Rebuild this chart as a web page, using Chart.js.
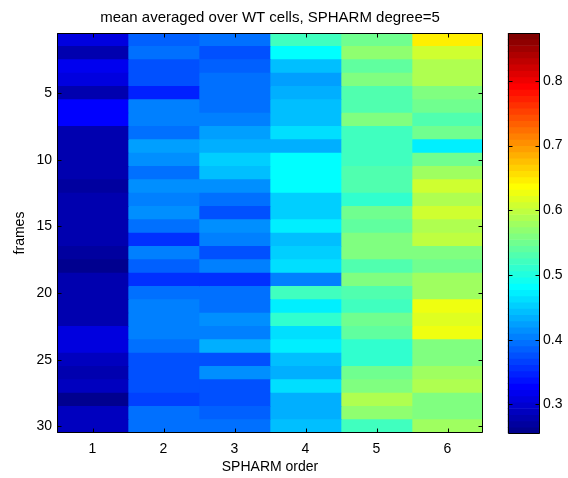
<!DOCTYPE html>
<html lang="en">
<head>
<meta charset="UTF-8">
<title>SPHARM mean, WT cells</title>
<script src="https://cdn.jsdelivr.net/npm/chart.js@4.4.1/dist/chart.umd.min.js"></script>
<style>
  body { margin: 0; background: #fff; }
  #wrap { position: relative; width: 568px; height: 478px; }
  #heatBox { position: absolute; left: 0; top: 0; width: 540px; height: 478px; }
  #barBox { position: absolute; left: 500px; top: 0; width: 68px; height: 478px; }
</style>
</head>
<body>
<div id="wrap">
  <div id="heatBox"><canvas id="heat"></canvas></div>
  <div id="barBox"><canvas id="cbar"></canvas></div>
</div>
<script>
// SPHARM orders along x, frames 1..30 down y
const orders = ['1', '2', '3', '4', '5', '6'];
const frameTicks = [5, 10, 15, 20, 25, 30];
const colorTicks = [0.3, 0.4, 0.5, 0.6, 0.7, 0.8];
const cmin = 0.255, cmax = 0.874;

// mean value per frame (rows 1..30) for each order
const order1 = [0.310, 0.281, 0.322, 0.310, 0.284, 0.332, 0.332, 0.281, 0.281, 0.281,
                0.281, 0.274, 0.281, 0.284, 0.284, 0.276, 0.265, 0.260, 0.276, 0.281,
                0.281, 0.281, 0.310, 0.310, 0.291, 0.276, 0.287, 0.260, 0.290, 0.290];
const order2 = [0.390, 0.400, 0.378, 0.380, 0.346, 0.403, 0.403, 0.398, 0.426, 0.414,
                0.400, 0.416, 0.409, 0.416, 0.400, 0.352, 0.403, 0.390, 0.352, 0.398,
                0.409, 0.409, 0.409, 0.398, 0.376, 0.376, 0.376, 0.363, 0.398, 0.398];
const order3 = [0.400, 0.378, 0.390, 0.400, 0.400, 0.400, 0.403, 0.427, 0.434, 0.456,
                0.448, 0.414, 0.400, 0.372, 0.418, 0.409, 0.380, 0.409, 0.361, 0.398,
                0.398, 0.416, 0.403, 0.434, 0.372, 0.418, 0.380, 0.380, 0.390, 0.400];
const order4 = [0.517, 0.486, 0.448, 0.427, 0.434, 0.445, 0.445, 0.466, 0.434, 0.486,
                0.486, 0.480, 0.456, 0.456, 0.476, 0.445, 0.456, 0.466, 0.403, 0.517,
                0.476, 0.508, 0.466, 0.476, 0.445, 0.434, 0.466, 0.434, 0.434, 0.445];
const order5 = [0.548, 0.573, 0.537, 0.564, 0.527, 0.527, 0.558, 0.517, 0.517, 0.517,
                0.527, 0.527, 0.508, 0.548, 0.537, 0.558, 0.564, 0.527, 0.558, 0.527,
                0.517, 0.548, 0.537, 0.508, 0.508, 0.548, 0.558, 0.590, 0.568, 0.517];
const order6 = [0.645, 0.610, 0.590, 0.590, 0.558, 0.548, 0.527, 0.548, 0.476, 0.548,
                0.579, 0.610, 0.590, 0.610, 0.590, 0.600, 0.564, 0.548, 0.579, 0.579,
                0.630, 0.617, 0.630, 0.558, 0.558, 0.579, 0.590, 0.558, 0.558, 0.579];

const columns = [order1, order2, order3, order4, order5, order6];

// matlab style jet(n)
function jet(n) {
  const m = Math.ceil(n / 4);
  const u = [];
  for (let i = 1; i <= m; i++) u.push(i / m);
  for (let i = 1; i < m; i++) u.push(1);
  for (let i = m; i >= 1; i--) u.push(i / m);
  const g0 = Math.ceil(m / 2) - (n % 4 === 1 ? 1 : 0);
  const map = Array.from({ length: n }, () => [0, 0, 0]);
  u.forEach((v, k) => {
    const g = g0 + k + 1;
    const r = g + m, b = g - m;
    if (r <= n) map[r - 1][0] = v;
    if (g <= n) map[g - 1][1] = v;
    if (b >= 1 && b <= n) map[b - 1][2] = v;
  });
  return map.map(c => 'rgb(' + c.map(x => Math.round(x * 255)).join(',') + ')');
}

const cmap = jet(64);
function colorFor(v) {
  let i = Math.floor((v - cmin) / (cmax - cmin) * cmap.length);
  i = Math.max(0, Math.min(cmap.length - 1, i));
  return cmap[i];
}

const FONT = 'Arial, "Liberation Sans", Helvetica, sans-serif';
Chart.defaults.font.family = FONT;
Chart.defaults.font.size = 14;
Chart.defaults.color = '#000';

// box around the axes plus short inward tick marks
const axesBox = {
  id: 'axesBox',
  afterDatasetsDraw(chart, args, opts) {
    const { ctx, chartArea: a, scales } = chart;
    const L = Math.round(a.left) + 0.5, R = Math.round(a.right) - 0.5;
    const T = Math.round(a.top) + 0.5, B = Math.round(a.bottom) - 0.5;
    const len = 4;
    ctx.save();
    ctx.strokeStyle = '#000';
    ctx.lineWidth = 1;
    ctx.beginPath();
    ctx.rect(L, T, R - L, B - T);
    if (opts.xTicks) {
      scales.x.ticks.forEach((t, i) => {
        const x = Math.round(scales.x.getPixelForTick(i)) + 0.5;
        ctx.moveTo(x, B); ctx.lineTo(x, B - len);
        ctx.moveTo(x, T); ctx.lineTo(x, T + len);
      });
    }
    scales.y.ticks.forEach(t => {
      const y = Math.round(scales.y.getPixelForValue(t.value)) + 0.5;
      ctx.moveTo(L, y); ctx.lineTo(L + len, y);
      ctx.moveTo(R, y); ctx.lineTo(R - len, y);
    });
    ctx.stroke();
    ctx.restore();
  }
};

// heat map: one floating bar per frame, one dataset per order
const heatSets = columns.map((col, c) => ({
  data: col.map((v, r) => ({ x: orders[c], y: [r + 0.5, r + 1.5] })),
  backgroundColor: col.map(colorFor),
  borderWidth: 0,
  grouped: false,
  barPercentage: 1,
  categoryPercentage: 1
}));

new Chart(document.getElementById('heat'), {
  type: 'bar',
  data: { labels: orders, datasets: heatSets },
  options: {
    responsive: true,
    maintainAspectRatio: false,
    animation: false,
    events: [],
    layout: { padding: 0 },
    plugins: {
      legend: { display: false },
      tooltip: { enabled: false },
      title: {
        display: true,
        text: 'mean averaged over WT cells, SPHARM degree=5',
        font: { size: 15, weight: 'normal' },
        color: '#000',
        padding: { top: 9, bottom: 6 }
      },
      axesBox: { xTicks: true }
    },
    scales: {
      x: {
        type: 'category',
        grid: { display: false, drawTicks: false, offset: false },
        border: { display: false },
        ticks: { padding: 8 },
        title: { display: true, text: 'SPHARM order', padding: { top: 0, bottom: 2 } },
        afterFit: s => { s.height = 45; }
      },
      y: {
        type: 'linear',
        reverse: true,
        min: 0.5,
        max: 30.5,
        grid: { display: false, drawTicks: false },
        border: { display: false },
        ticks: { padding: 5 },
        afterBuildTicks: s => { s.ticks = frameTicks.map(v => ({ value: v })); },
        title: { display: true, text: 'frames', padding: { top: 11.6, bottom: 0 } },
        afterFit: s => { s.width = 57; }
      },
      // empty right gutter, same width as the left one, so the title sits over the plot
      gutter: {
        type: 'linear',
        position: 'right',
        grid: { display: false, drawTicks: false },
        border: { display: false },
        ticks: { display: false },
        afterFit: s => { s.width = 57; }
      }
    }
  },
  plugins: [axesBox]
});

// colour bar: the 64 jet levels stacked between the colour limits
const step = (cmax - cmin) / cmap.length;
new Chart(document.getElementById('cbar'), {
  type: 'bar',
  data: {
    labels: ['c'],
    datasets: [{
      data: cmap.map((c, i) => ({ x: 'c', y: [cmin + i * step, cmin + (i + 1) * step] })),
      backgroundColor: cmap,
      borderWidth: 0,
      grouped: false,
      barPercentage: 1,
      categoryPercentage: 1
    }]
  },
  options: {
    responsive: true,
    maintainAspectRatio: false,
    animation: false,
    events: [],
    layout: { padding: { top: 33, right: 0, bottom: 44.5, left: 7.7 } },
    plugins: {
      legend: { display: false },
      tooltip: { enabled: false },
      axesBox: { xTicks: false }
    },
    scales: {
      x: { display: false },
      y: {
        type: 'linear',
        position: 'right',
        min: cmin,
        max: cmax,
        grid: { display: false, drawTicks: false },
        border: { display: false },
        ticks: { padding: 3, callback: v => v.toFixed(1) },
        afterBuildTicks: s => { s.ticks = colorTicks.map(v => ({ value: v })); },
        afterFit: s => { s.width = 28; }
      }
    }
  },
  plugins: [axesBox]
});
</script>
</body>
</html>
